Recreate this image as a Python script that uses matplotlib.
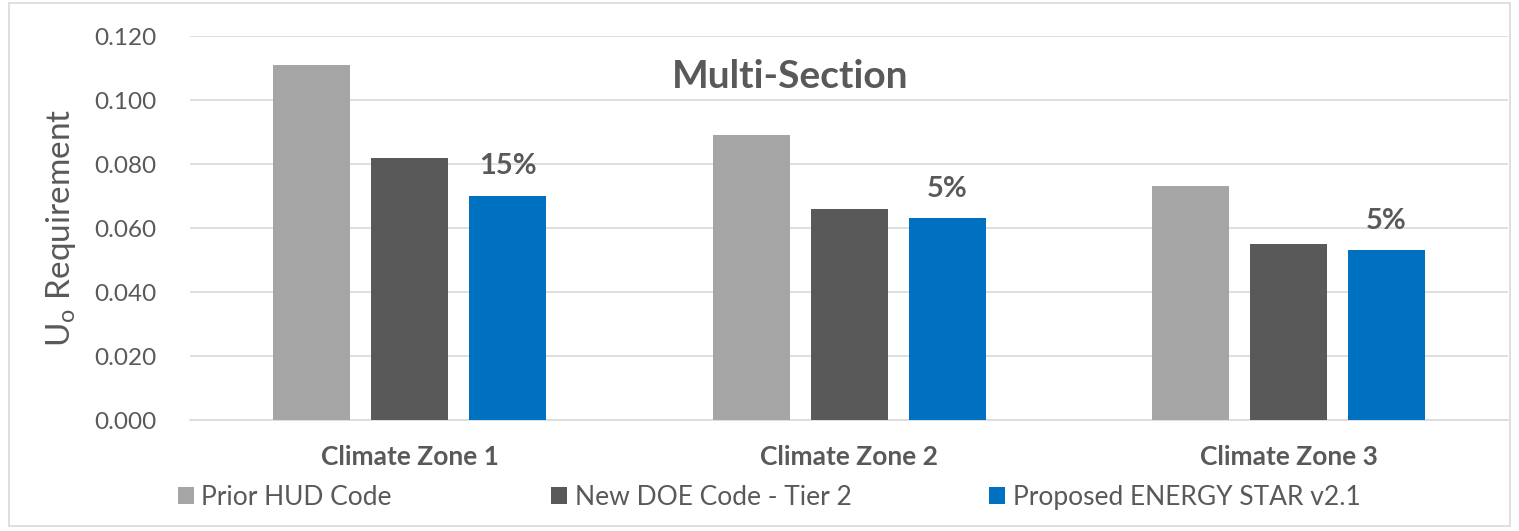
import matplotlib
matplotlib.use('Agg')
import matplotlib.pyplot as plt
import numpy as np
from matplotlib.patches import Rectangle

plt.rcParams['font.family'] = ['Lato', 'DejaVu Sans']

# data
zones = ['Climate Zone 1', 'Climate Zone 2', 'Climate Zone 3']
prior_hud = [0.111, 0.089, 0.073]
new_doe = [0.082, 0.066, 0.055]
energy_star = [0.070, 0.063, 0.053]
pct_labels = ['15%', '5%', '5%']
series_names = ['Prior HUD Code', 'New DOE Code - Tier 2', 'Proposed ENERGY STAR v2.1']
colors = ['#A5A5A5', '#595959', '#0070C0']
txt = '#595959'

fig = plt.figure(figsize=(15.19, 5.31), dpi=100)
ax = fig.add_axes([0.125, 0.209, 0.868, 0.723])

x = np.arange(len(zones))
w = 0.175
step = 0.223
bars = []
for i, (vals, c) in enumerate(zip([prior_hud, new_doe, energy_star], colors)):
    b = ax.bar(x + (i - 1) * step, vals, w, color=c, label=series_names[i], zorder=3)
    bars.append(b)

for xi, v, lab in zip(x, energy_star, pct_labels):
    ax.annotate(lab, (xi + step, v), xytext=(0, 12), textcoords='offset points',
                ha='center', va='bottom', fontsize=21, fontweight='bold', color=txt)

ax.set_xlim(-0.5, 2.5)
ax.set_ylim(0, 0.120)
ax.set_yticks(np.arange(0, 0.121, 0.02))
ax.set_yticklabels(['%.3f' % t for t in np.arange(0, 0.121, 0.02)])
ax.set_xticks(x)
ax.set_xticklabels(zones, fontweight='bold')
ax.tick_params(axis='y', length=0, pad=24, labelsize=17.5, labelcolor=txt)
ax.tick_params(axis='x', length=0, pad=18, labelsize=19, labelcolor=txt)
ax.grid(axis='y', color='#D9D9D9', linewidth=1.2, zorder=0)
for s in ['top', 'right', 'left']:
    ax.spines[s].set_visible(False)
ax.spines['bottom'].set_color('#D9D9D9')
ax.spines['bottom'].set_linewidth(1.2)

ax.set_ylabel(r'U$_\mathregular{o}$ Requirement', fontsize=24, color=txt, labelpad=12)
ax.text(0.455, 0.895, 'Multi-Section', transform=ax.transAxes, ha='center', va='center',
        fontsize=28, fontweight='bold', color=txt)

# legend entries, spaced like the original
leg_x = [0.117, 0.363, 0.651]
for b, name, lx in zip(bars, series_names, leg_x):
    lg = fig.legend(handles=[b], labels=[name], loc='center left', bbox_to_anchor=(lx, 0.064),
                    frameon=False, fontsize=19, labelcolor=txt, handlelength=0.6,
                    handleheight=0.6, handletextpad=0.3, borderpad=0, borderaxespad=0)

fig.patches.append(Rectangle((0.006, 0.01), 0.988, 0.985, transform=fig.transFigure,
                             fill=False, edgecolor='#D9D9D9', linewidth=1.2))

fig.savefig('out.png', dpi=100)
